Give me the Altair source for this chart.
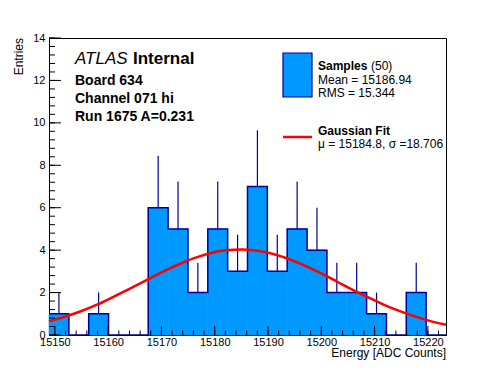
import altair as alt
import pandas as pd

# ---------------- data ----------------
bin_edges = [15148.900, 15152.625, 15156.350, 15160.075, 15163.800, 15167.525,
             15171.250, 15174.975, 15178.700, 15182.425, 15186.150, 15189.875,
             15193.600, 15197.325, 15201.050, 15204.775, 15208.500, 15212.225,
             15215.950, 15219.675, 15223.400]
counts = [1, 0, 1, 0, 0, 6, 5, 2, 5, 3, 7, 3, 5, 4, 2, 2, 1, 0, 2, 0]
# upper end of the error bar for each bin (None = no bar)
err_top = [2.0, None, 2.0, None, None, 8.45, 7.24, 3.41, 7.24, 4.73, 9.65, 4.73,
           7.24, 6.0, 3.41, 3.41, 2.0, None, 3.41, None]

fit_x = [15148.9, 15152, 15155, 15158, 15161, 15164, 15167, 15170, 15173, 15176,
         15179, 15182, 15185, 15188, 15191, 15194, 15197, 15200, 15203, 15206,
         15209, 15212, 15215, 15218, 15221, 15223.4]
fit_y = [0.65, 0.87, 1.13, 1.44, 1.80, 2.17, 2.56, 2.95, 3.30, 3.61,
         3.84, 3.99, 4.03, 3.97, 3.82, 3.57, 3.26, 2.90, 2.51, 2.12,
         1.75, 1.40, 1.10, 0.84, 0.62, 0.48]

x_major = [15150, 15160, 15170, 15180, 15190, 15200, 15210, 15220]
x_minor = list(range(15150, 15224, 2))
y_major = [0, 2, 4, 6, 8, 10, 12, 14]
y_minor = [round(i * 0.4, 1) for i in range(36)]

X_DOMAIN = [15148.9, 15223.4]
Y_DOMAIN = [0, 14]

FONT = "Liberation Sans"
FILL = "#0099ff"
LINE = "#000099"
W, H = 397, 297

xs = alt.Scale(domain=X_DOMAIN, nice=False, zero=False)
ys = alt.Scale(domain=Y_DOMAIN, nice=False, zero=False)
XA = alt.Axis(values=x_major, ticks=False, grid=False, title=None, labelFont=FONT,
              labelFontSize=11, labelColor="black", labelPadding=1, labelFlush=False,
              labelOverlap=False, domainColor="black", domainWidth=1, format="d")
YA = alt.Axis(values=y_major, ticks=False, grid=False, title=None, labelFont=FONT,
              labelFontSize=11, labelColor="black", labelPadding=4, labelFlush=False,
              labelOverlap=False, domainColor="black", domainWidth=1, format="d")

bars_df = pd.DataFrame({"lo": bin_edges[:-1], "hi": bin_edges[1:], "n": counts})
bars_df = bars_df[bars_df["n"] > 0]
step_df = pd.DataFrame({"x": bin_edges, "y": counts + [counts[-1]]})
err_df = pd.DataFrame({
    "c": [(bin_edges[i] + bin_edges[i + 1]) / 2 for i in range(len(counts)) if err_top[i] is not None],
    "n": [counts[i] for i in range(len(counts)) if err_top[i] is not None],
    "t": [err_top[i] for i in range(len(counts)) if err_top[i] is not None],
})
fit_df = pd.DataFrame({"x": fit_x, "y": fit_y})

bars = alt.Chart(bars_df).mark_rect(fill=FILL, stroke=FILL, strokeWidth=0.6).encode(
    x=alt.X("lo:Q", scale=xs, axis=XA),
    x2="hi:Q",
    y=alt.Y("n:Q", scale=ys, axis=YA),
    y2=alt.datum(0),
)

outline = alt.Chart(step_df).mark_line(color=LINE, strokeWidth=1.5, interpolate="step-after").encode(
    x=alt.X("x:Q", scale=xs, axis=XA),
    y=alt.Y("y:Q", scale=ys, axis=YA),
)

errs = alt.Chart(err_df).mark_rule(color=LINE, strokeWidth=1.2).encode(
    x=alt.X("c:Q", scale=xs, axis=XA),
    y=alt.Y("n:Q", scale=ys, axis=YA),
    y2="t:Q",
)

fit = alt.Chart(fit_df).mark_line(color="#ff0000", strokeWidth=2.5, interpolate="monotone").encode(
    x=alt.X("x:Q", scale=xs, axis=XA),
    y=alt.Y("y:Q", scale=ys, axis=YA),
)

xmaj = alt.Chart(pd.DataFrame({"v": x_major})).mark_rule(color="black", strokeWidth=1).encode(
    x=alt.X("v:Q", scale=xs, axis=XA), y=alt.value(H), y2=alt.value(H - 9))
xmin = alt.Chart(pd.DataFrame({"v": x_minor})).mark_rule(color="black", strokeWidth=1).encode(
    x=alt.X("v:Q", scale=xs, axis=XA), y=alt.value(H), y2=alt.value(H - 4.5))
ymaj = alt.Chart(pd.DataFrame({"v": y_major})).mark_rule(color="black", strokeWidth=1).encode(
    y=alt.Y("v:Q", scale=ys, axis=YA), x=alt.value(0), x2=alt.value(12))
ymin = alt.Chart(pd.DataFrame({"v": y_minor})).mark_rule(color="black", strokeWidth=1).encode(
    y=alt.Y("v:Q", scale=ys, axis=YA), x=alt.value(0), x2=alt.value(6))


def txt(s, x, y, size=12, weight="normal", style="normal", align="left", angle=0, baseline="alphabetic"):
    return alt.Chart(pd.DataFrame({"t": [s]})).mark_text(
        align=align, baseline=baseline, font=FONT, fontSize=size, fontWeight=weight,
        fontStyle=style, color="black", angle=angle).encode(
        x=alt.value(x), y=alt.value(y), text="t:N")


texts = [
    txt("ATLAS", 26, 26, size=17, style="italic"),
    txt("Internal", 84, 26, size=17, weight="bold"),
    txt("Board 634", 26, 47, size=14, weight="bold"),
    txt("Channel 071 hi", 26, 65, size=14, weight="bold"),
    txt("Run 1675 A=0.231", 26, 83, size=14, weight="bold"),
    txt("Samples", 269, 32, size=12, weight="bold"),
    txt("(50)", 322, 32, size=12),
    txt("Mean = 15186.94", 269, 46, size=12),
    txt("RMS = 15.344", 269, 59, size=12),
    txt("Gaussian Fit", 269, 97, size=12, weight="bold"),
    txt("\u03bc = 15184.8, \u03c3 =18.706", 269, 110, size=12),
    txt("Energy [ADC Counts]", W, 319, size=12, align="right"),
    txt("Entries", -30, 0, size=12, align="right", angle=270, baseline="middle"),
]

leg_df = pd.DataFrame({"k": ["Samples"]})
leg_box = alt.Chart(leg_df).mark_rect(fill=FILL, stroke=LINE, strokeWidth=1.2).encode(
    x=alt.value(234), x2=alt.value(263), y=alt.value(15), y2=alt.value(59))
leg_line = alt.Chart(leg_df).mark_rule(color="#ff0000", strokeWidth=2.5).encode(
    x=alt.value(234), x2=alt.value(263), y=alt.value(99))

chart = alt.layer(bars, outline, errs, fit, xmaj, xmin, ymaj, ymin, leg_box, leg_line, *texts).properties(
    width=W, height=H,
    autosize=alt.AutoSizeParams(type="none"),
    padding={"left": 41, "top": 30, "right": 42, "bottom": 29},
    background="white",
).configure_view(stroke="black", strokeWidth=1)

chart.save("out.html", embed_options={"renderer": "svg", "actions": False})
